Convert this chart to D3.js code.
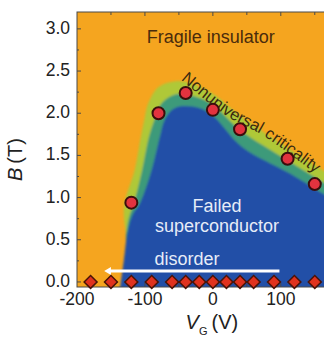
<!DOCTYPE html>
<html lang="en">
<head>
    <meta charset="UTF-8">
    <title>Phase diagram</title>
    <script src="https://d3js.org/d3.v7.min.js"></script>
    <style>
        body { margin: 0; background: #fff; font-family: "Liberation Sans", Arial, sans-serif; }
        svg { display: block; }
    </style>
</head>
<body>
    <div id="chart"></div>

    <script>
        // measured points
        const circleV = [-120, -80, -40, 0, 40, 110, 150];
        const circleB = [0.94, 2.0, 2.24, 2.04, 1.81, 1.46, 1.16];
        const diamondV = [-180, -150, -120, -90, -60, -40, -20, 0, 20, 40, 60, 90, 120, 150];

        // region edges: [V, B]
        const blueEdge = [[-137, -0.1], [-131, 0.26], [-125, 0.62], [-118, 0.8], [-107, 0.94], [-90, 1.33],
            [-78, 1.72], [-71, 1.92], [-60, 2.04], [-49, 2.08], [-19, 2.06], [0, 1.97], [43, 1.6],
            [112, 1.29], [175, 0.98]];
        const tealEdge = [[-128, 0.55], [-124, 0.75], [-116, 0.94], [-104, 1.33], [-94, 1.72], [-86, 1.92],
            [-77, 2.1], [-62, 2.2], [-48, 2.23], [-20, 2.18], [0, 2.1], [40, 1.8], [112, 1.43], [175, 1.12]];
        const yellowEdge = [[-126, 0.5], [-131, 0.78], [-130, 0.94], [-115, 1.33], [-106, 1.72], [-101, 1.92],
            [-95, 2.12], [-80, 2.31], [-55, 2.38], [-35, 2.36], [0, 2.23], [40, 1.97], [112, 1.58], [175, 1.26]];

        const xTicks = [-200, -100, 0, 100];
        const yTicks = [0, 0.5, 1.0, 1.5, 2.0, 2.5, 3.0];
        const labelPath = [[-47, 2.4], [18, 1.98], [77, 1.72], [168, 1.18]];

        const W = 324, H = 349;
        const x = d3.scaleLinear().domain([-200, 168]).range([77, 327]);
        const y = d3.scaleLinear().domain([-0.06, 3.2]).range([287, 12]);

        const svg = d3.select("#chart").append("svg")
            .attr("width", W).attr("height", H);

        const defs = svg.append("defs");
        defs.append("clipPath").attr("id", "plot")
            .append("rect").attr("x", 77).attr("y", 12).attr("width", 250).attr("height", 275);
        defs.append("filter").attr("id", "soft")
            .attr("x", "-10%").attr("y", "-10%").attr("width", "120%").attr("height", "120%")
            .append("feGaussianBlur").attr("stdDeviation", 1.3);

        const plot = svg.append("g").attr("clip-path", "url(#plot)");
        plot.append("rect").attr("x", 77).attr("y", 12).attr("width", 250).attr("height", 275)
            .attr("fill", "#F5A51F");

        const edgeLine = d3.line().x(d => x(d[0])).y(d => y(d[1])).curve(d3.curveCatmullRom);
        function region(edge) {
            const last = edge[edge.length - 1], first = edge[0];
            return edgeLine(edge) + `L${x(last[0])},${y(-0.2)}L${x(first[0])},${y(-0.2)}Z`;
        }

        const bands = plot.append("g").attr("filter", "url(#soft)");
        bands.append("path").attr("d", region(yellowEdge)).attr("fill", "#AFC838");
        bands.append("path").attr("d", region(tealEdge)).attr("fill", "#3E9A7A");
        bands.append("path").attr("d", region(blueEdge)).attr("fill", "#2050A7");

        // labels
        plot.append("text").attr("x", x(-3)).attr("y", y(2.83))
            .attr("text-anchor", "middle").attr("font-size", 18).attr("fill", "#4A2C0C")
            .text("Fragile insulator");

        defs.append("path").attr("id", "crit")
            .attr("d", d3.line().x(d => x(d[0])).y(d => y(d[1])).curve(d3.curveCatmullRom)(labelPath));
        plot.append("text").attr("font-size", 16.5).attr("fill", "#3A2A10")
            .append("textPath").attr("href", "#crit").text("Nonuniversal criticality");

        const light = "#E6ECF8";
        [["Failed", 6, 0.83], ["superconductor", 6, 0.59], ["disorder", -38, 0.2]].forEach(t => {
            plot.append("text").attr("x", x(t[1])).attr("y", y(t[2]))
                .attr("text-anchor", "middle").attr("font-size", 18).attr("fill", light)
                .text(t[0]);
        });

        // arrow
        plot.append("line").attr("x1", x(98)).attr("x2", x(-152)).attr("y1", y(0.13)).attr("y2", y(0.13))
            .attr("stroke", "#fff").attr("stroke-width", 3);
        plot.append("path")
            .attr("d", `M${x(-160)},${y(0.13)}L${x(-150)},${y(0.13) - 4}L${x(-150)},${y(0.13) + 4}Z`)
            .attr("fill", "#fff");

        // frame and ticks
        const frame = "#4A4A4A";
        svg.append("rect").attr("x", 77).attr("y", 12).attr("width", 250).attr("height", 275)
            .attr("fill", "none").attr("stroke", frame).attr("stroke-width", 1);

        const ax = svg.append("g").attr("stroke", frame).attr("stroke-width", 1);
        d3.range(-150, 170, 50).forEach(v => {
            const len = v % 100 === 0 ? 4 : 3;
            ax.append("line").attr("x1", x(v)).attr("x2", x(v)).attr("y1", 12).attr("y2", 12 + len);
            ax.append("line").attr("x1", x(v)).attr("x2", x(v)).attr("y1", 287).attr("y2", 287 - len);
        });
        d3.range(0, 3.2, 0.25).forEach(b => {
            const len = Math.abs(b * 2 - Math.round(b * 2)) < 1e-6 ? 4 : 2;
            ax.append("line").attr("x1", 77).attr("x2", 77 + len).attr("y1", y(b)).attr("y2", y(b));
        });

        svg.append("g").selectAll("text").data(yTicks).join("text")
            .attr("x", 70).attr("y", d => y(d) + 5)
            .attr("text-anchor", "end").attr("font-size", 17.5).attr("fill", "#222")
            .text(d => d.toFixed(1));
        svg.append("g").selectAll("text").data(xTicks).join("text")
            .attr("x", d => x(d)).attr("y", 305)
            .attr("text-anchor", "middle").attr("font-size", 17.5).attr("fill", "#222")
            .text(d => d);

        // axis titles
        const xt = svg.append("text").attr("x", x(0) - 1).attr("y", 329)
            .attr("text-anchor", "middle").attr("font-size", 20).attr("fill", "#222");
        xt.append("tspan").attr("font-style", "italic").text("V");
        xt.append("tspan").attr("font-size", 11).attr("dy", 6).text("G");
        xt.append("tspan").attr("dy", -6).attr("dx", 4).text("(V)");

        const yt = svg.append("text").attr("transform", `translate(22,${y(1.45)}) rotate(-90)`)
            .attr("text-anchor", "middle").attr("font-size", 20).attr("fill", "#222");
        yt.append("tspan").attr("font-style", "italic").text("B");
        yt.append("tspan").attr("dx", 4).text("(T)");

        // markers
        const markers = svg.append("g");
        markers.selectAll("path.dia").data(diamondV).join("path")
            .attr("class", "dia")
            .attr("d", d3.symbol(d3.symbolSquare, 84))
            .attr("transform", d => `translate(${x(d)},${y(0)}) rotate(45)`)
            .attr("fill", "#E0321E").attr("stroke", "#4A1408").attr("stroke-width", 1.5);
        markers.selectAll("circle").data(circleV).join("circle")
            .attr("cx", d => x(d)).attr("cy", (d, i) => y(circleB[i])).attr("r", 6)
            .attr("fill", "#E2333F").attr("stroke", "#3A0E0C").attr("stroke-width", 2);
    </script>
</body>
</html>
